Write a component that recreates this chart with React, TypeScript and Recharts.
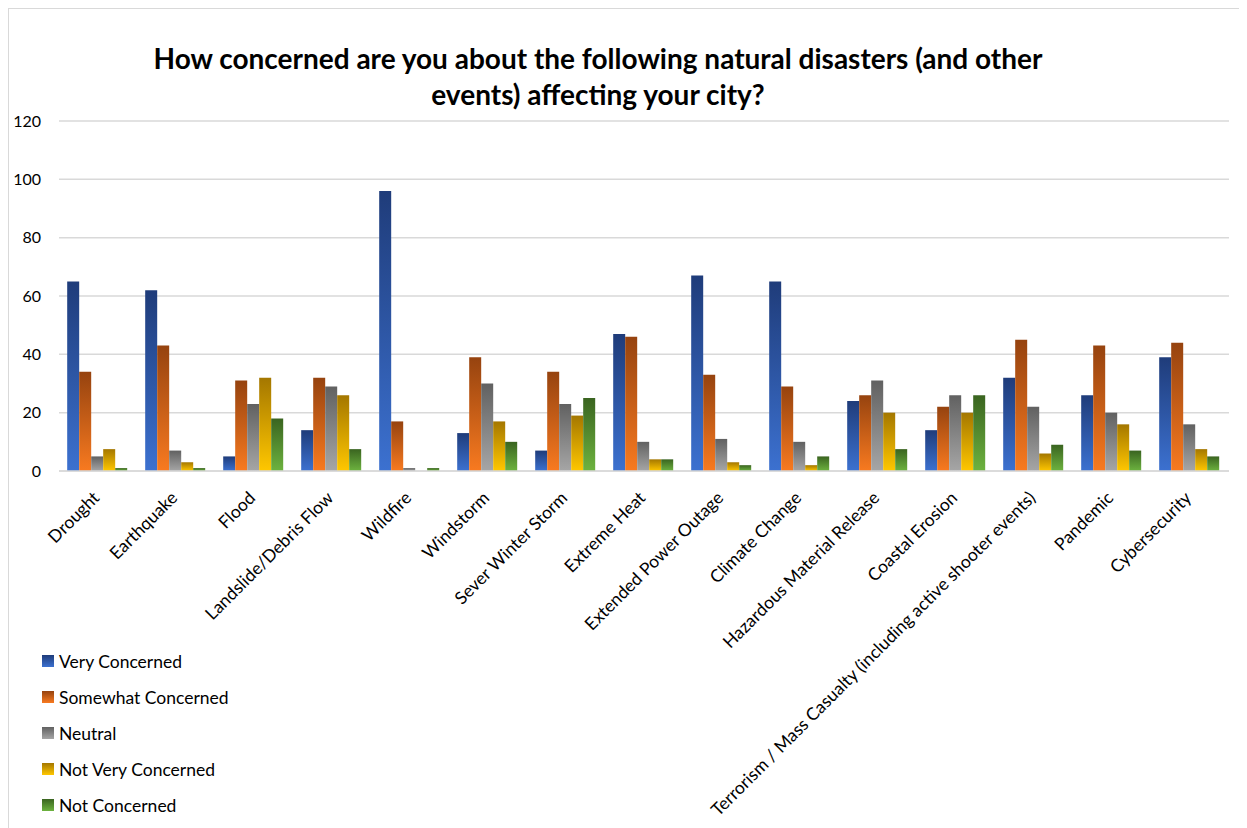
import React from "react";
import { BarChart, Bar, XAxis, YAxis, CartesianGrid } from "recharts";

const categories = [
  "Drought",
  "Earthquake",
  "Flood",
  "Landslide/Debris Flow",
  "Wildfire",
  "Windstorm",
  "Sever Winter Storm",
  "Extreme Heat",
  "Extended Power Outage",
  "Climate Change",
  "Hazardous Material Release",
  "Coastal Erosion",
  "Terrorism / Mass Casualty (including active shooter events)",
  "Pandemic",
  "Cybersecurity",
];

const veryConcerned = [65, 62, 5, 14, 96, 13, 7, 47, 67, 65, 24, 14, 32, 26, 39];
const somewhatConcerned = [34, 43, 31, 32, 17, 39, 34, 46, 33, 29, 26, 22, 45, 43, 44];
const neutral = [5, 7, 23, 29, 1, 30, 23, 10, 11, 10, 31, 26, 22, 20, 16];
const notVeryConcerned = [7.5, 3, 32, 26, 0, 17, 19, 4, 3, 2, 20, 20, 6, 16, 7.5];
const notConcerned = [1, 1, 18, 7.5, 1, 10, 25, 4, 2, 5, 7.5, 26, 9, 7, 5];

const yTicks = [0, 20, 40, 60, 80, 100, 120];

const seriesNames = [
  "Very Concerned",
  "Somewhat Concerned",
  "Neutral",
  "Not Very Concerned",
  "Not Concerned",
];
const seriesKeys = ["vc", "sc", "ne", "nvc", "nc"];
const seriesValues = [veryConcerned, somewhatConcerned, neutral, notVeryConcerned, notConcerned];
const gradTop = ["#1f3c7a", "#96430f", "#616161", "#a47700", "#3a6420"];
const gradBottom = ["#3c71d0", "#f87a20", "#a6a6a6", "#ffc700", "#6db33f"];

const data = categories.map((c, i) => {
  const row: Record<string, string | number> = { name: c };
  seriesKeys.forEach((k, s) => {
    row[k] = seriesValues[s][i];
  });
  return row;
});

const FONT = "Lato, 'Open Sans', sans-serif";

const XTick = (props: any) => {
  const { x, y, payload } = props;
  const tx = x + 2.5;
  const ty = y + 20;
  return (
    <text
      x={tx}
      y={ty}
      transform={`rotate(-45 ${tx} ${ty})`}
      textAnchor="end"
      fontSize={17.5}
      fill="#000"
      fontFamily={FONT}
    >
      {payload.value}
    </text>
  );
};

export default function App() {
  return (
    <div
      style={{
        position: "relative",
        width: 1245,
        height: 830,
        border: "1px solid #d9d9d9",
        boxSizing: "border-box",
        background: "#fff",
        fontFamily: FONT,
      }}
    >
      <div
        style={{
          position: "absolute",
          left: 0,
          top: 31,
          width: 1178,
          textAlign: "center",
          fontWeight: 700,
          fontSize: 28,
          lineHeight: "36px",
          color: "#000",
        }}
      >
        How concerned are you about the following natural disasters (and other
        <br />
        events) affecting your city?
      </div>
      <BarChart
        width={1236}
        height={815}
        data={data}
        margin={{ top: 112, right: 16, bottom: 0, left: 0 }}
        barCategoryGap="10.5%"
        barGap={0}
      >
        <defs>
          {seriesKeys.map((k, s) => (
            <linearGradient key={k} id={`g-${k}`} x1="0" y1="0" x2="0" y2="1">
              <stop offset="0%" stopColor={gradTop[s]} />
              <stop offset="100%" stopColor={gradBottom[s]} />
            </linearGradient>
          ))}
        </defs>
        <CartesianGrid vertical={false} stroke="#d9d9d9" strokeWidth={1.5} />
        <XAxis
          dataKey="name"
          interval={0}
          height={353}
          tickLine={false}
          axisLine={{ stroke: "#d9d9d9", strokeWidth: 1.5 }}
          tick={<XTick />}
        />
        <YAxis
          width={50}
          domain={[0, 120]}
          ticks={yTicks}
          axisLine={false}
          tickLine={false}
          tickMargin={12}
          tick={{ fontSize: 16, fill: "#000", fontFamily: FONT }}
        />
        {seriesKeys.map((k, s) => (
          <Bar
            key={k}
            dataKey={k}
            name={seriesNames[s]}
            fill={`url(#g-${k})`}
            isAnimationActive={false}
          />
        ))}
      </BarChart>
      <div style={{ position: "absolute", left: 33, top: 634 }}>
        {seriesNames.map((n, s) => (
          <div
            key={n}
            style={{ display: "flex", alignItems: "center", height: 36, fontSize: 17.5, color: "#000" }}
          >
            <span
              style={{
                display: "inline-block",
                width: 12,
                height: 12,
                marginRight: 5,
                background: `linear-gradient(${gradTop[s]}, ${gradBottom[s]})`,
              }}
            />
            {n}
          </div>
        ))}
      </div>
    </div>
  );
}
